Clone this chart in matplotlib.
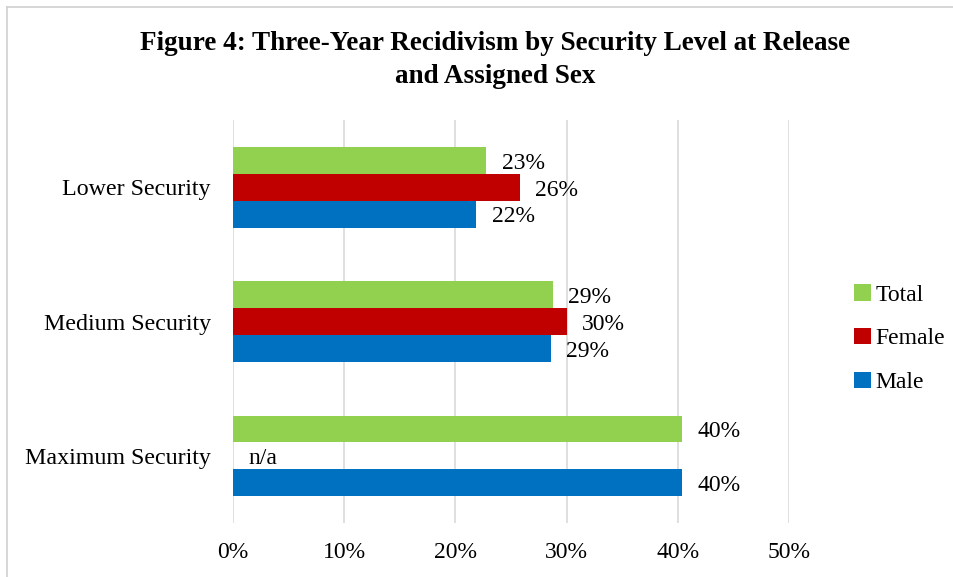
import matplotlib.pyplot as plt
from matplotlib.lines import Line2D
import numpy as np

plt.rcParams['font.family'] = ['Liberation Serif', 'DejaVu Serif']

categories = ['Lower Security', 'Medium Security', 'Maximum Security']
series = ['Total', 'Female', 'Male']
total = [22.8, 28.8, 40.4]
female = [25.8, 30.0, None]   # no female facility at maximum security
male = [21.9, 28.6, 40.4]
colors = {'Total': '#92d050', 'Female': '#c00000', 'Male': '#0070c0'}
xticks = [0, 10, 20, 30, 40, 50]

fig = plt.figure(figsize=(9.54, 5.77), dpi=100)
ax = fig.add_axes([0.2442, 0.0936, 0.5828, 0.698])

y = np.arange(len(categories))
h = 0.2
offsets = {'Total': -h, 'Female': 0.0, 'Male': h}
data = {'Total': total, 'Female': female, 'Male': male}

for name in series:
    for i, v in enumerate(data[name]):
        yy = y[i] + offsets[name]
        if v is None:
            ax.annotate('n/a', (0, yy), xytext=(11, -2), textcoords='offset points',
                        va='center', ha='left', fontsize=17)
            continue
        ax.barh(yy, v, height=h, color=colors[name], zorder=3,
                label=name if i == 0 else None)
        ax.annotate(f'{round(v)}%', (v, yy), xytext=(11, -2), textcoords='offset points',
                    va='center', ha='left', fontsize=17)

ax.set_xlim(0, 50)
ax.set_ylim(2.5, -0.5)
ax.set_xticks(xticks)
ax.set_xticklabels([f'{t}%' for t in xticks], fontsize=17)
ax.set_yticks(y)
ax.set_yticklabels(categories, fontsize=17.3)
ax.tick_params(length=0, pad=16, axis='y')
ax.tick_params(length=0, pad=14, axis='x')
ax.grid(axis='x', color='#d9d9d9', linewidth=1.2, zorder=0)
for s in ax.spines.values():
    s.set_visible(False)

handles, labels = ax.get_legend_handles_labels()
leg = fig.legend(handles, labels, loc='center left',
                 bbox_to_anchor=(0.873, 0.413), frameon=False, fontsize=17,
                 handlelength=0.7, handleheight=0.7, handletextpad=0.2,
                 labelspacing=0.95)

fig.text(0.519, 0.896, 'Figure 4: Three-Year Recidivism by Security Level at Release\nand Assigned Sex',
         ha='center', va='center', fontsize=19.5, fontweight='bold', linespacing=1.4)

# outer chart border
fig.add_artist(Line2D([7/954, 7/954], [0, 1 - 7/577], color='#d0d0d0', lw=1.2))
fig.add_artist(Line2D([7/954, 1], [1 - 7/577, 1 - 7/577], color='#d0d0d0', lw=1.2))

fig.savefig('out.png', dpi=100)
